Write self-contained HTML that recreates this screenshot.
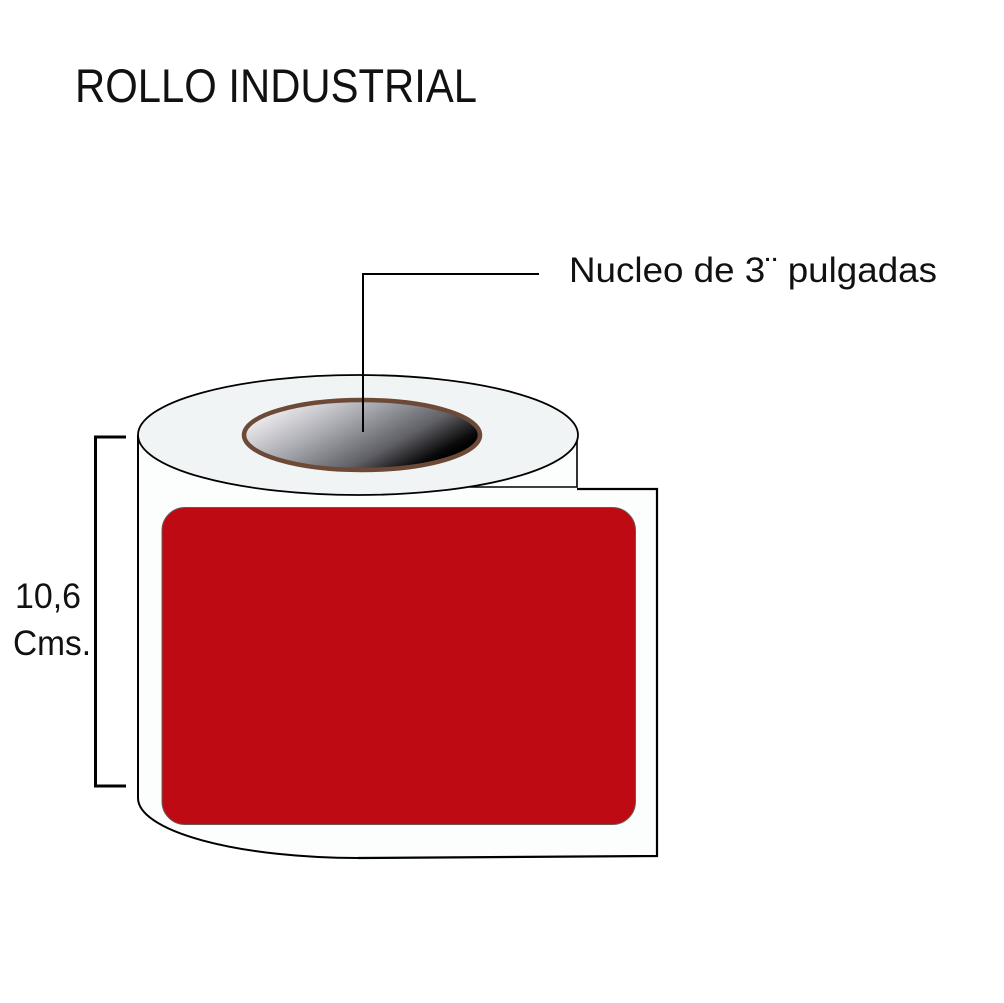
<!DOCTYPE html>
<html>
<head>
<meta charset="utf-8">
<style>
  html,body{margin:0;padding:0;background:#fff;}
  svg{display:block;}
  text{font-family:"Liberation Sans",sans-serif;fill:#111;}
</style>
</head>
<body>
<svg width="1004" height="1003" viewBox="0 0 1004 1003" xmlns="http://www.w3.org/2000/svg">
  <defs>
    <linearGradient id="core" x1="0" y1="0" x2="1" y2="0.55">
      <stop offset="0" stop-color="#ffffff"/>
      <stop offset="0.12" stop-color="#f4f4f6"/>
      <stop offset="0.45" stop-color="#a9a9b1"/>
      <stop offset="0.75" stop-color="#5f5f66"/>
      <stop offset="0.95" stop-color="#0a0a0a"/>
      <stop offset="1" stop-color="#000"/>
    </linearGradient>
  </defs>
  <rect width="1004" height="1003" fill="#fff"/>

  <!-- Title -->
  <text x="75" y="102" font-size="47" textLength="402" lengthAdjust="spacingAndGlyphs">ROLLO INDUSTRIAL</text>

  <!-- Label sheet (behind cylinder) -->
  <path d="M577 489 L657 489 L657 856 L358 858 L358 489 Z" fill="#fcfdfd" stroke="none"/>
  <!-- Cylinder body -->
  <path d="M138 435 L138 798 A220 60 0 0 0 358 858 L358 435 Z" fill="#fcfdfd"/>
  <rect x="358" y="435" width="219" height="60" fill="#fcfdfd"/>

  <!-- Sheet outline -->
  <path d="M577 489 L657 489 L657 856 L358 858" fill="none" stroke="#000" stroke-width="2.2"/>
  <!-- Cylinder outline -->
  <path d="M138 435 L138 798 A220 60 0 0 0 358 858" fill="none" stroke="#000" stroke-width="2"/>
  <path d="M577 435 L577 487 L470 487" fill="none" stroke="#000" stroke-width="1.6"/>

  <!-- Top ellipse -->
  <ellipse cx="358" cy="435" rx="220" ry="60" fill="#f1f4f4" stroke="#000" stroke-width="1.8"/>
  <!-- Core -->
  <ellipse cx="362" cy="435" rx="118" ry="35" fill="url(#core)" stroke="#6d4a37" stroke-width="4.5"/>

  <!-- Red label -->
  <rect x="162" y="507.5" width="473.5" height="317" rx="23" ry="23" fill="#be0a13" stroke="#6a5a55" stroke-width="1"/>

  <!-- Leader line -->
  <path d="M363 432 L363 274 L539 274" fill="none" stroke="#000" stroke-width="2"/>
  <text x="569" y="282" font-size="35" textLength="368" lengthAdjust="spacingAndGlyphs">Nucleo de 3¨ pulgadas</text>

  <!-- Bracket -->
  <path d="M126 437 L95.5 437 L95.5 786 L126 786" fill="none" stroke="#000" stroke-width="3"/>
  <text x="15" y="608" font-size="35" textLength="66" lengthAdjust="spacingAndGlyphs">10,6</text>
  <text x="13" y="655" font-size="35" textLength="78" lengthAdjust="spacingAndGlyphs">Cms.</text>
</svg>
</body>
</html>
